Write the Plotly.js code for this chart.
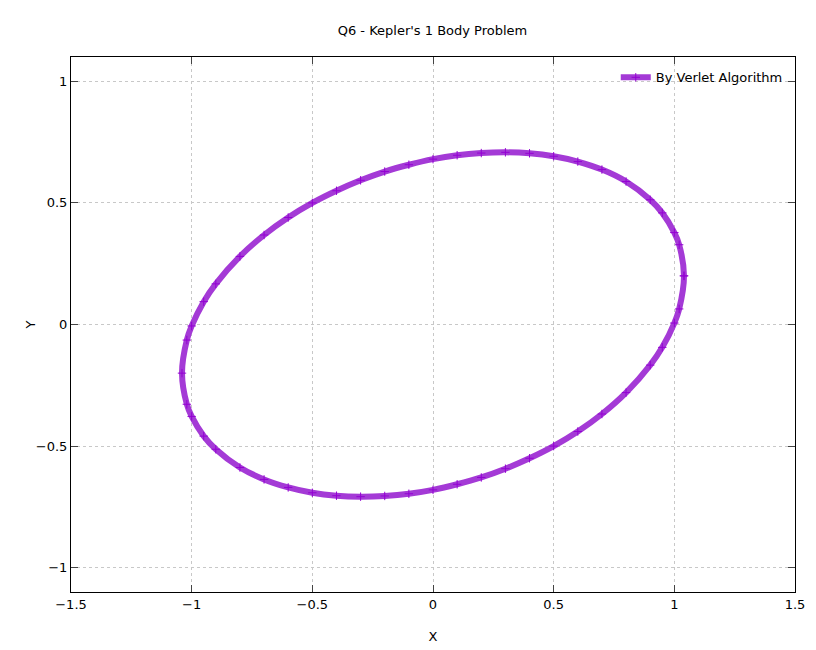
<!DOCTYPE html>
<html><head><script src="https://cdn.plot.ly/plotly-3.0.1.min.js"></script>
<style>body{margin:0}</style></head>
<body><div id="plot" style="width:816px;height:650px"></div>
<script>
// orbit points, upper arc then lower arc
const xs = [1.04, 1.02, 1.0, 0.95, 0.9, 0.8, 0.7, 0.6, 0.5, 0.4, 0.3, 0.2, 0.1, 0, -0.1, -0.2, -0.3, -0.4, -0.5, -0.6, -0.7, -0.8, -0.9, -0.95, -1.0, -1.02, -1.04,
  -1.02, -1.0, -0.95, -0.9, -0.8, -0.7, -0.6, -0.5, -0.4, -0.3, -0.2, -0.1, 0, 0.1, 0.2, 0.3, 0.4, 0.5, 0.6, 0.7, 0.8, 0.9, 0.95, 1.0, 1.02, 1.04];
const ys = [0.20, 0.328, 0.378, 0.459, 0.513, 0.588, 0.637, 0.670, 0.692, 0.704, 0.708, 0.705, 0.696, 0.680, 0.657, 0.629, 0.593, 0.550, 0.500, 0.440, 0.368, 0.280, 0.167, 0.094, -0.006, -0.064, -0.20,
  -0.328, -0.378, -0.459, -0.513, -0.588, -0.637, -0.670, -0.692, -0.704, -0.708, -0.705, -0.696, -0.680, -0.657, -0.629, -0.593, -0.550, -0.500, -0.440, -0.368, -0.280, -0.167, -0.094, 0.006, 0.064, 0.20];

const trace = {
  x: xs, y: ys,
  mode: 'lines+markers',
  type: 'scatter',
  line: {color: '#a43ad6', width: 6, shape: 'spline', smoothing: 1},
  marker: {color: '#9400d3', symbol: 'cross-thin-open', size: 6, line: {color: '#9400d3', width: 1}},
  name: 'By Verlet Algorithm',
};

const axis = {
  showline: true, mirror: 'ticks', linecolor: 'black', linewidth: 1,
  ticks: 'inside', ticklen: 7, zeroline: false,
  gridcolor: '#c8c8c8', griddash: 'dot',
  tickfont: {size: 13, color: 'black'},
};

const layout = {
  font: {family: 'DejaVu Sans, sans-serif', color: 'black'},
  title: {text: "Q6 - Kepler's 1 Body Problem", font: {size: 13}, x: 0.53, y: 0.96},
  xaxis: Object.assign({}, axis, {range: [-1.5, 1.5], dtick: 0.5, title: {text: 'X', font: {size: 13}}}),
  yaxis: Object.assign({}, axis, {range: [-1.1, 1.1], tickvals: [-1, -0.5, 0, 0.5, 1], title: {text: 'Y', font: {size: 13}}}),
  showlegend: true,
  legend: {x: 0.99, y: 0.99, xanchor: 'right', yanchor: 'top', bgcolor: 'rgba(0,0,0,0)', font: {size: 13}},
  margin: {l: 71, r: 21, t: 57, b: 58},
  plot_bgcolor: 'white', paper_bgcolor: 'white',
};

Plotly.newPlot('plot', [trace], layout, {displayModeBar: false});
</script></body></html>
